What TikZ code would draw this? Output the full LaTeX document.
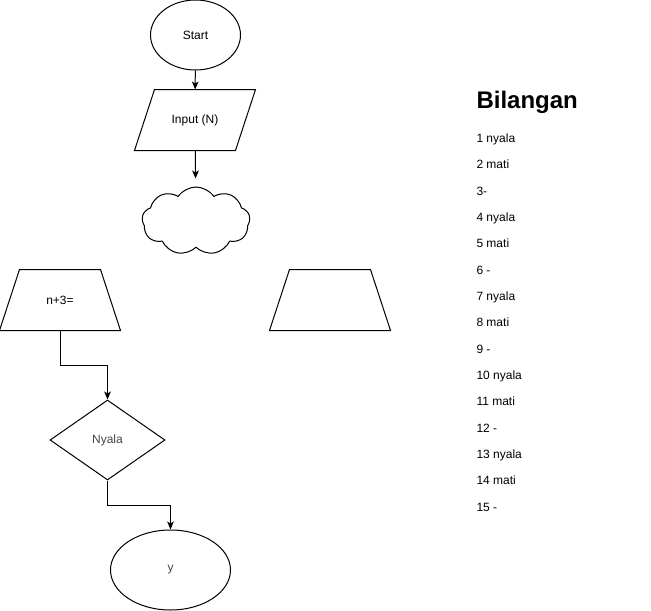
\documentclass[tikz,border=0pt]{standalone}
\usepackage{fontspec}
\setmainfont{Liberation Sans}
\usepackage{tikz}
\usetikzlibrary{arrows.meta}
\usetikzlibrary{shapes.geometric}
\usetikzlibrary{shapes.symbols}

\begin{document}
\begin{tikzpicture}[x=0.75pt, y=-0.75pt, line width=0.75pt,
    every node/.style={font=\fontsize{9}{11}\selectfont, inner sep=0pt},
    box/.style={minimum width=120*0.75pt, minimum height=60*0.75pt},
    pfeil/.style={-{Stealth[length=6pt, width=5pt, inset=1.5pt]}}]
    \definecolor{grautext}{HTML}{444444}
    \useasboundingbox (0,0) rectangle (651,611);  %Rahmen
    \node[draw, ellipse, minimum width=90*0.75pt, minimum height=70*0.75pt] (start) at (195.5,35) {Start};  %Anfang
    \node[box] (input) at (195,120) {Input (N)};  %Eingabe
    \draw ([xshift=15pt]input.north west) -- (input.north east) -- ([xshift=-15pt]input.south east) -- (input.south west) -- cycle;  %Parallelogramm
    \node[draw, cloud, cloud puffs=9, cloud puff arc=110, aspect=1.6, minimum width=108*0.75pt, minimum height=68*0.75pt] (wolke) at (196,221) {};  %Wolke
    \node[box] (rechnen) at (60,300) {n+3=};  %linkes Trapez
    \draw ([xshift=15pt]rechnen.north west) -- ([xshift=-15pt]rechnen.north east) -- (rechnen.south east) -- (rechnen.south west) -- cycle;
    \node[box] (leer) at (330,300) {};  %rechtes Trapez
    \draw ([xshift=15pt]leer.north west) -- ([xshift=-15pt]leer.north east) -- (leer.south east) -- (leer.south west) -- cycle;
    \node[draw, diamond, minimum width=115*0.75pt, minimum height=80*0.75pt, text=grautext] (nyala) at (107.5,440) {Nyala};  %Abfrage
    \node[draw, ellipse, minimum width=120*0.75pt, minimum height=80*0.75pt, text=grautext] (ende) at (170.5,570) {y};  %Ende
    \draw[pfeil] (start) -- (input);
    \draw[pfeil, shorten >=8*0.75pt] (input) -- (wolke);
    \draw[pfeil] (rechnen.south) -- ++(0,35) -| (nyala.north);
    \draw[pfeil] (nyala.south) -- ++(0,25) -| (ende.north);
    \node[anchor=base west, font=\fontsize{18}{22}\selectfont\bfseries] (titel) at (476,108) {Bilangan};  %Ueberschrift
    \foreach \i/\zeile in
    {
      1/1 nyala,
      2/2 mati,
      3/3-,
      4/4 nyala,
      5/5 mati,
      6/6 -,
      7/7 nyala,
      8/8 mati,
      9/9 -,
      10/10 nyala,
      11/11 mati,
      12/12 -,
      13/13 nyala,
      14/14 mati,
      15/15 -
    }
    {
      \node[anchor=base west] (b\i) at (476,142.5+26.33*\i-26.33) {\zeile};  %Liste
    };
\end{tikzpicture}
\end{document}
